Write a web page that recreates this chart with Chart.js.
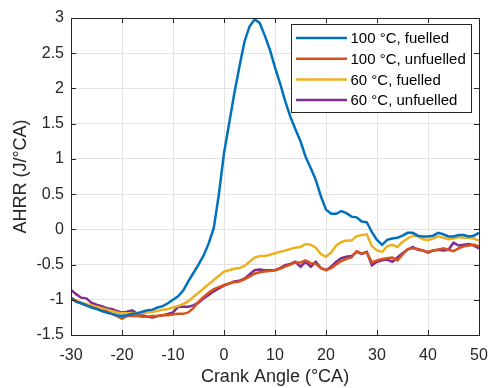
<!DOCTYPE html>
<html><head><meta charset="utf-8">
<script src="https://cdn.jsdelivr.net/npm/chart.js@4/dist/chart.umd.min.js"></script>
<style>html,body{margin:0;padding:0;background:#fff;}#wrap{width:488px;height:388px;}</style>
</head><body><div id="wrap"><canvas id="c" width="488" height="388"></canvas></div>
<script>
const crankAngle = [];
for (let a = -30; a <= 50; a++) crankAngle.push(a);

const seriesNames = ['100 °C, fuelled', '100 °C, unfuelled', '60 °C, fuelled', '60 °C, unfuelled'];

const hot_fuelled = [-0.97,-1.03,-1.05,-1.08,-1.11,-1.13,-1.16,-1.18,-1.2,-1.22,-1.23,-1.22,-1.2,-1.19,-1.17,-1.15,-1.14,-1.11,-1.09,-1.05,-1.0,-0.95,-0.87,-0.74,-0.62,-0.5,-0.37,-0.2,0.02,0.5,1.08,1.5,1.92,2.3,2.66,2.88,2.98,2.93,2.75,2.55,2.3,2.07,1.82,1.6,1.42,1.25,1.03,0.87,0.7,0.47,0.28,0.22,0.22,0.26,0.23,0.18,0.17,0.11,0.1,-0.04,-0.15,-0.22,-0.15,-0.13,-0.12,-0.09,-0.05,-0.05,-0.09,-0.1,-0.1,-0.09,-0.05,-0.07,-0.1,-0.1,-0.08,-0.08,-0.1,-0.09,-0.05];

const hot_unfuelled = [-0.97,-1.02,-1.05,-1.08,-1.1,-1.13,-1.15,-1.17,-1.2,-1.23,-1.27,-1.23,-1.23,-1.23,-1.24,-1.24,-1.23,-1.23,-1.22,-1.22,-1.21,-1.2,-1.2,-1.18,-1.12,-1.03,-0.96,-0.9,-0.85,-0.82,-0.79,-0.77,-0.75,-0.74,-0.71,-0.67,-0.63,-0.61,-0.6,-0.59,-0.58,-0.56,-0.53,-0.5,-0.47,-0.47,-0.44,-0.48,-0.49,-0.55,-0.58,-0.55,-0.5,-0.45,-0.42,-0.4,-0.31,-0.34,-0.33,-0.47,-0.44,-0.42,-0.41,-0.4,-0.44,-0.36,-0.28,-0.27,-0.28,-0.3,-0.32,-0.3,-0.29,-0.27,-0.29,-0.31,-0.27,-0.24,-0.23,-0.22,-0.24];

const warm_fuelled = [-0.97,-1.01,-1.04,-1.06,-1.08,-1.1,-1.12,-1.14,-1.16,-1.18,-1.19,-1.19,-1.19,-1.19,-1.19,-1.18,-1.17,-1.16,-1.14,-1.13,-1.11,-1.09,-1.06,-1.02,-0.96,-0.9,-0.84,-0.78,-0.72,-0.66,-0.6,-0.58,-0.56,-0.55,-0.52,-0.46,-0.4,-0.38,-0.38,-0.36,-0.34,-0.32,-0.3,-0.28,-0.26,-0.25,-0.21,-0.22,-0.26,-0.35,-0.39,-0.33,-0.23,-0.18,-0.16,-0.16,-0.1,-0.08,-0.07,-0.24,-0.3,-0.32,-0.24,-0.22,-0.25,-0.18,-0.13,-0.09,-0.1,-0.14,-0.15,-0.13,-0.1,-0.12,-0.14,-0.13,-0.11,-0.12,-0.12,-0.13,-0.16];

const warm_unfuelled = [-0.86,-0.92,-0.97,-0.98,-1.04,-1.07,-1.09,-1.12,-1.13,-1.16,-1.18,-1.17,-1.15,-1.2,-1.22,-1.24,-1.25,-1.23,-1.22,-1.2,-1.18,-1.1,-1.1,-1.1,-1.08,-1.04,-0.98,-0.93,-0.88,-0.84,-0.8,-0.77,-0.74,-0.73,-0.7,-0.64,-0.58,-0.57,-0.58,-0.58,-0.58,-0.55,-0.51,-0.49,-0.46,-0.53,-0.46,-0.53,-0.46,-0.55,-0.58,-0.53,-0.46,-0.41,-0.39,-0.38,-0.32,-0.35,-0.32,-0.51,-0.46,-0.44,-0.43,-0.46,-0.4,-0.34,-0.29,-0.25,-0.29,-0.3,-0.33,-0.3,-0.29,-0.3,-0.29,-0.19,-0.23,-0.22,-0.21,-0.23,-0.27];

const colors = ['#0072BD', '#D95319', '#EDB120', '#7E2F8E'];
const allSeries = [hot_fuelled, hot_unfuelled, warm_fuelled, warm_unfuelled];

const FONT = "'Liberation Sans', Arial, Helvetica, sans-serif";
const AXIS_COLOR = '#262626';

const boxPlugin = {
  id: 'boxPlugin',
  afterDatasetsDraw(chart) {
    const {ctx, chartArea: a, scales} = chart;
    ctx.save();
    ctx.strokeStyle = AXIS_COLOR;
    ctx.lineWidth = 1;
    const tl = 5;
    ctx.beginPath();
    scales.x.ticks.forEach(t => {
      const px = Math.round(scales.x.getPixelForValue(t.value)) + 0.5;
      ctx.moveTo(px, a.bottom); ctx.lineTo(px, a.bottom - tl);
      ctx.moveTo(px, a.top); ctx.lineTo(px, a.top + tl);
    });
    scales.y.ticks.forEach(t => {
      const py = Math.round(scales.y.getPixelForValue(t.value)) + 0.5;
      ctx.moveTo(a.left, py); ctx.lineTo(a.left + tl, py);
      ctx.moveTo(a.right, py); ctx.lineTo(a.right - tl, py);
    });
    ctx.stroke();
    ctx.strokeRect(Math.round(a.left) + 0.5, Math.round(a.top) + 0.5, Math.round(a.right - a.left), Math.round(a.bottom - a.top));
    // legend
    const lx = 291.5, ly = 24.5, lw = 180, lh = 88;
    ctx.fillStyle = '#fff';
    ctx.fillRect(lx, ly, lw, lh);
    ctx.strokeStyle = AXIS_COLOR;
    ctx.strokeRect(lx, ly, lw, lh);
    ctx.font = '15px ' + FONT;
    ctx.textBaseline = 'middle';
    ctx.textAlign = 'left';
    chart.data.datasets.forEach((ds, i) => {
      const y = 38 + i * 20.7;
      ctx.strokeStyle = ds.borderColor;
      ctx.lineWidth = 2.5;
      ctx.beginPath(); ctx.moveTo(296, y); ctx.lineTo(347, y); ctx.stroke();
      ctx.fillStyle = '#000';
      ctx.fillText(ds.label, 350.5, y + 1);
    });
    ctx.restore();
  }
};

new Chart(document.getElementById('c'), {
  type: 'line',
  data: {
    labels: crankAngle,
    datasets: allSeries.map((s, i) => ({
      label: seriesNames[i],
      data: s,
      borderColor: colors[i],
      backgroundColor: colors[i],
      borderWidth: 2.5,
      pointRadius: 0,
      tension: 0,
      fill: false
    }))
  },
  options: {
    responsive: false,
    animation: false,
    devicePixelRatio: 1,
    layout: { padding: { top: 18, right: 9, left: 0, bottom: 0 } },
    plugins: { legend: { display: false }, tooltip: { enabled: false } },
    scales: {
      x: {
        type: 'linear', min: -30, max: 50,
        afterFit(s) { s.height = 53; s.paddingLeft = 0; s.paddingRight = 0; },
        border: { display: false },
        grid: { color: '#e3e3e3', lineWidth: 1, drawTicks: false },
        ticks: { stepSize: 10, padding: 11, color: AXIS_COLOR, font: { family: FONT, size: 16 }, maxRotation: 0 },
        title: { display: true, text: 'Crank Angle (°CA)', color: AXIS_COLOR, font: { family: FONT, size: 18 }, padding: { top: 0, bottom: 0 } }
      },
      y: {
        min: -1.5, max: 3,
        afterFit(s) { s.width = 71; s.paddingTop = 0; s.paddingBottom = 0; },
        border: { display: false },
        grid: { color: '#e3e3e3', lineWidth: 1, drawTicks: false },
        ticks: { stepSize: 0.5, padding: 7, color: AXIS_COLOR, font: { family: FONT, size: 16 }, callback: v => String(v) },
        title: { display: true, text: 'AHRR (J/°CA)', color: AXIS_COLOR, font: { family: FONT, size: 18 }, padding: { top: 10, bottom: 0 } }
      }
    }
  },
  plugins: [boxPlugin]
});
</script>
</body></html>
